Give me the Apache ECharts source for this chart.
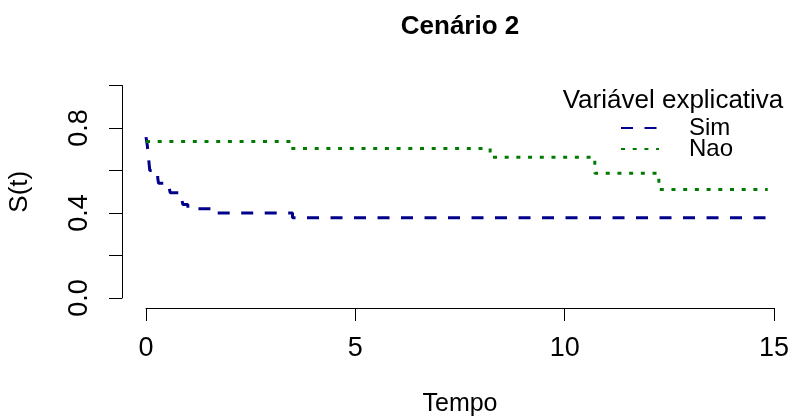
<!DOCTYPE html>
<html>
<head>
<meta charset="utf-8">
<script src="https://cdn.jsdelivr.net/npm/echarts@6/dist/echarts.min.js"></script>
<style>
  html, body { margin: 0; padding: 0; background: #fff; }
  #chart { width: 792px; height: 416px; }
</style>
</head>
<body>
<div id="chart"></div>
<script>
// Survival curves S(t) by explanatory variable (step functions)
const simTime = [0, 0.03, 0.05, 0.07, 0.09, 0.28, 0.30, 0.55, 0.58, 0.85, 0.88, 1.00, 1.63, 3.50, 14.95];
const simSurv = [0.757, 0.72, 0.68, 0.64, 0.60, 0.565, 0.54, 0.52, 0.495, 0.47, 0.44, 0.42, 0.40, 0.378, 0.378];

const naoTime = [0, 3.46, 8.22, 10.72, 12.25, 14.85];
const naoSurv = [0.736, 0.704, 0.662, 0.587, 0.511, 0.511];

const xTicks = [0, 5, 10, 15];
const yTickLabels = ['0.0', '0.4', '0.8'];

const seriesNames = ['Sim', 'Nao'];
const legendTitle = 'Variável explicativa';

const FONT = '"Liberation Sans", Arial, sans-serif';

function pairs(t, s) { return t.map((v, i) => [v, s[i]]); }

const chart = echarts.init(document.getElementById('chart'), null, { renderer: 'canvas' });

chart.setOption({
  animation: false,
  backgroundColor: '#ffffff',
  title: {
    text: 'Cenário 2',
    left: 460,
    textAlign: 'center',
    top: 14,
    padding: 0,
    textStyle: { fontFamily: FONT, fontWeight: 'bold', fontSize: 26, color: '#000' }
  },
  graphic: [{
    type: 'text',
    x: 673,
    y: 101,
    style: {
      text: legendTitle,
      font: '26px ' + FONT,
      fill: '#000',
      textAlign: 'center',
      textVerticalAlign: 'middle'
    }
  }],
  legend: {
    orient: 'vertical',
    left: 620,
    top: 113,
    padding: 0,
    itemGap: -9,
    itemWidth: 38,
    itemHeight: 14,
    data: seriesNames,
    itemStyle: { opacity: 0 },
    textStyle: {
      fontFamily: FONT, fontSize: 24, color: '#000',
      lineHeight: 18, padding: [12, 0, 0, 25]
    }
  },
  grid: {
    left: 146, right: 18, top: 85.5, bottom: 118,
    containLabel: false,
    outerBoundsMode: 'none'
  },
  xAxis: {
    type: 'value',
    min: xTicks[0],
    max: xTicks[xTicks.length - 1],
    interval: 5,
    offset: 10,
    name: 'Tempo',
    nameLocation: 'middle',
    nameGap: 84,
    nameTextStyle: { fontFamily: FONT, fontSize: 25, color: '#000' },
    axisLine: { show: true, onZero: false, lineStyle: { color: '#000', width: 1 } },
    axisTick: { show: true, length: 13, lineStyle: { color: '#000' } },
    axisLabel: {
      margin: 27,
      fontFamily: FONT, fontSize: 27, color: '#000'
    },
    splitLine: { show: false }
  },
  yAxis: {
    type: 'value',
    min: 0,
    max: 1,
    interval: 0.2,
    offset: 24,
    name: 'S(t)',
    nameLocation: 'middle',
    nameGap: 89,
    nameRotate: 90,
    nameTextStyle: { fontFamily: FONT, fontSize: 26, color: '#000' },
    axisLine: { show: true, onZero: false, lineStyle: { color: '#000', width: 1 } },
    axisTick: { show: true, length: 13, lineStyle: { color: '#000' } },
    axisLabel: {
      rotate: 90,
      margin: 29,
      fontFamily: FONT, fontSize: 27, color: '#000',
      formatter: function (v) {
        const s = v.toFixed(1);
        return yTickLabels.indexOf(s) >= 0 ? s : '';
      }
    },
    splitLine: { show: false }
  },
  series: [
    {
      name: seriesNames[0],
      type: 'line',
      step: 'end',
      showSymbol: false,
      symbol: 'none',
      data: pairs(simTime, simSurv),
      itemStyle: { color: '#00008B' },
      lineStyle: { color: '#00008B', width: 3, type: [12, 11.5] }
    },
    {
      name: seriesNames[1],
      type: 'line',
      step: 'end',
      showSymbol: false,
      symbol: 'none',
      data: pairs(naoTime, naoSurv),
      itemStyle: { color: '#007A00' },
      lineStyle: { color: '#007A00', width: 3, type: [4, 7.7] }
    }
  ]
});
</script>
</body>
</html>
